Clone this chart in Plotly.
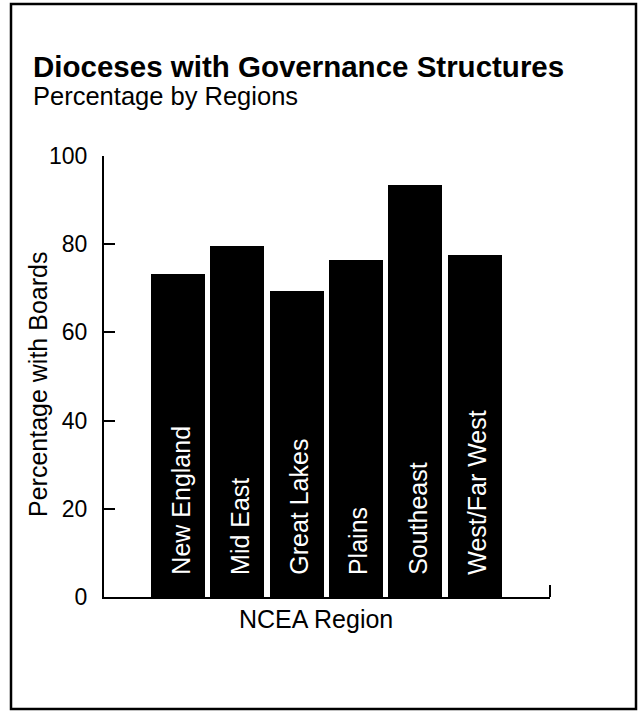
import plotly.graph_objects as go

# ---- data ----
regions = ["New England", "Mid East", "Great Lakes", "Plains", "Southeast", "West/Far West"]
pct_with_boards = [73.2, 79.5, 69.5, 76.5, 93.5, 77.5]
y_ticks = [0, 20, 40, 60, 80, 100]

title_text = "Dioceses with Governance Structures"
subtitle_text = "Percentage by Regions"
x_title = "NCEA Region"
y_title = "Percentage with Boards"

FONT = "Liberation Sans, Arial, Helvetica, sans-serif"

W, H = 640, 713
L, R, T, B = 104, 90, 156, 116
pw, ph = W - L - R, H - T - B


def px_x(px):
    return (px - L) / pw


def px_y(py):
    return (H - B - py) / ph


fig = go.Figure()
fig.add_trace(go.Bar(
    x=list(range(len(regions))),
    y=pct_with_boards,
    width=0.91,
    marker=dict(color="black", line=dict(width=0)),
    hoverinfo="skip",
    showlegend=False,
))

annotations = []
# labels inside bars
for i, name in enumerate(regions):
    annotations.append(dict(
        x=i, y=0, xref="x", yref="y", text=name, showarrow=False,
        textangle=-90, xanchor="center", yanchor="bottom", yshift=20, xshift=2,
        font=dict(family=FONT, size=25, color="white"),
    ))

# title and subtitle
annotations.append(dict(
    x=px_x(31), y=px_y(48), xref="paper", yref="paper", text="<b>%s</b>" % title_text,
    showarrow=False, xanchor="left", yanchor="top",
    font=dict(family=FONT, size=29.5, color="black"),
))
annotations.append(dict(
    x=px_x(31), y=px_y(80), xref="paper", yref="paper", text=subtitle_text,
    showarrow=False, xanchor="left", yanchor="top",
    font=dict(family=FONT, size=25.5, color="black"),
))
# axis titles
annotations.append(dict(
    x=px_x(316), y=px_y(603), xref="paper", yref="paper", text=x_title,
    showarrow=False, xanchor="center", yanchor="top",
    font=dict(family=FONT, size=25, color="black"),
))
annotations.append(dict(
    x=px_x(38), y=px_y(385), xref="paper", yref="paper", text=y_title,
    showarrow=False, xanchor="center", yanchor="middle", textangle=-90,
    font=dict(family=FONT, size=25, color="black"),
))

shapes = [
    # outer frame
    dict(type="rect", xref="paper", yref="paper",
         x0=px_x(11), x1=px_x(636), y0=px_y(709), y1=px_y(4),
         line=dict(color="black", width=2.5), fillcolor="rgba(0,0,0,0)", layer="below"),
    # small end tick at right of x axis
    dict(type="line", xref="x domain", yref="paper", x0=1, x1=1, y0=0, y1=12 / ph,
         line=dict(color="black", width=2)),
]

fig.update_layout(
    width=W, height=H,
    margin=dict(l=L, r=R, t=T, b=B, pad=0),
    paper_bgcolor="white", plot_bgcolor="white",
    font=dict(family=FONT, size=23, color="black"),
    annotations=annotations,
    shapes=shapes,
    bargap=0,
)
fig.update_xaxes(
    range=[-1.25, 6.27], showticklabels=False, ticks="", showgrid=False, zeroline=False,
    showline=True, linecolor="black", linewidth=2,
)
fig.update_yaxes(
    range=[0, 100], tickvals=y_ticks, ticktext=[str(v) for v in y_ticks],
    ticks="inside", ticklen=11, tickwidth=2, tickcolor="black",
    showgrid=False, zeroline=False, showline=True, linecolor="black", linewidth=2,
    tickfont=dict(family=FONT, size=23, color="black"), ticklabelstandoff=10,
)

fig.write_html("out.html")
